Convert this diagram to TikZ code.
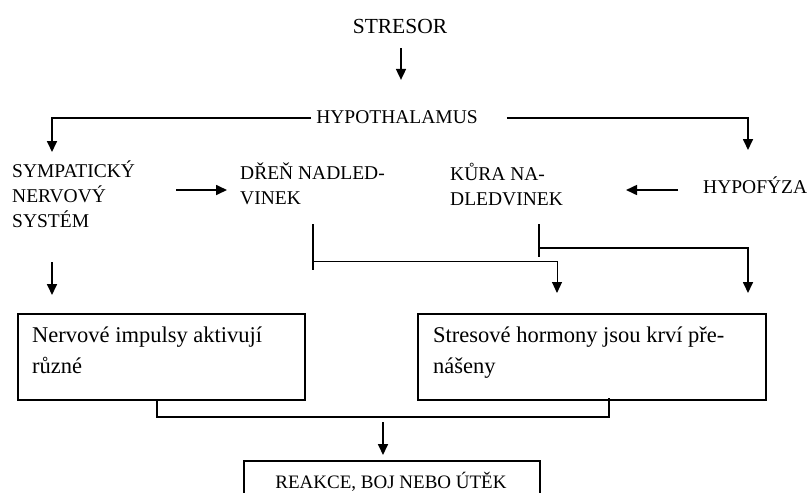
\documentclass[tikz,border=0pt]{standalone}
\usepackage{fontspec}
\setmainfont{Liberation Serif}
\usetikzlibrary{arrows.meta}
\begin{document}
\begin{tikzpicture}[x=1pt,y=-1pt,
  lab/.style={inner sep=0pt, align=left, font=\fontsize{19.5}{25}\selectfont},
  boxtext/.style={inner sep=0pt, align=left, anchor=base west, font=\fontsize{22.5}{31}\selectfont},
  arr/.style={line width=1.7pt, -{Triangle[length=11pt,width=10pt]}},
  thinarr/.style={line width=1pt, -{Triangle[length=11pt,width=10pt]}},
  ln/.style={line width=1.7pt},
  bx/.style={draw, line width=1.8pt, inner sep=0pt, anchor=north west}]
\useasboundingbox (0,0) rectangle (807,493);
% text nodes
\node[inner sep=0pt, anchor=base, font=\fontsize{21.5}{26}\selectfont] (stresor) at (400,33) {STRESOR};
\node[lab, anchor=base] (hypo) at (397,123) {HYPOTHALAMUS};
\node[lab, anchor=west] (symp) at (12,194) {SYMPATICKÝ\\NERVOVÝ\\SYSTÉM};
\node[lab, anchor=west] (dren) at (240,184) {DŘEŇ NADLED-\\VINEK};
\node[lab, anchor=west] (kura) at (450,184) {KŮRA NA-\\DLEDVINEK};
\node[lab, anchor=west] (hypof) at (703,185) {HYPOFÝZA};
% boxes
\node[bx, minimum width=287pt, minimum height=86pt] (nerv) at (17,313) {};
\node[boxtext] (nervt) at (32,373) {Nervové impulsy aktivují\\různé};
\node[bx, minimum width=348pt, minimum height=86pt] (hormon) at (417,313) {};
\node[boxtext] (hormont) at (433,373) {Stresové hormony jsou krví pře-\\nášeny};
\node[bx, minimum width=296pt, minimum height=50pt] (reakce) at (243,460) {};
\node[inner sep=0pt, anchor=base, font=\fontsize{19}{24}\selectfont] (reakcet) at (391,488) {REAKCE, BOJ NEBO ÚTĚK};
% coordinates
\coordinate (hl) at (52,152);
\coordinate (hr) at (748,150);
\coordinate (s1) at (52,262);
\coordinate (s2) at (52,295);
\coordinate (d1) at (313,224);
\coordinate (d2) at (313,270);
\coordinate (d3) at (313,261);
\coordinate (dt) at (557,293);
\coordinate (k1) at (539,224);
\coordinate (k2) at (539,257);
\coordinate (k3) at (539,248);
\coordinate (kt) at (748,293);
\coordinate (b1) at (157,399);
\coordinate (b2) at (609,398);
\coordinate (bm) at (383,417);
\coordinate (m1) at (383,422);
\coordinate (m2) at (383,455);
% connectors
\draw[arr, shorten <=15pt, shorten >=30pt] ([xshift=1pt]stresor.base) -- ([xshift=1pt]hypo.north -| stresor.base);
\draw[arr] ([xshift=-5pt,yshift=5pt]hypo.base west) -| (hl);
\draw[arr] ([xshift=29pt,yshift=5pt]hypo.base east) -| (hr);
\draw[arr, shorten <=41pt, shorten >=13pt] ([yshift=-6pt]symp.east |- dren.west) -- ([yshift=-6pt]dren.west);
\draw[arr, shorten <=25pt, shorten >=63pt] ([yshift=-5pt]hypof.west) -- ([yshift=-5pt]kura.east |- hypof.west);
\draw[arr] (s1) -- (s2);
\draw[ln] (d1) -- (d2);
\draw[thinarr] (d3) -| (dt);
\draw[ln] (k1) -- (k2);
\draw[arr] (k3) -| (kt);
\draw[ln] (b1) |- (bm) -| (b2);
\draw[arr] (m1) -- (m2);
\end{tikzpicture}
\end{document}
